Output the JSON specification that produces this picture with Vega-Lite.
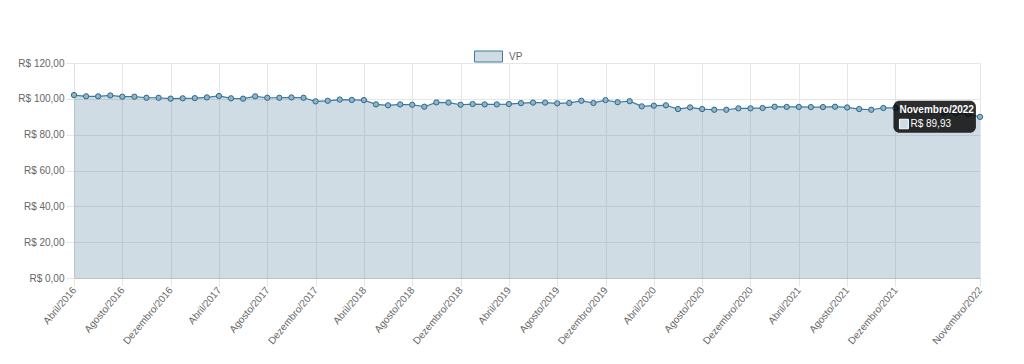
{
  "$schema": "https://vega.github.io/schema/vega-lite/v6.json",
  "width": 906,
  "height": 215,
  "autosize": "none",
  "padding": {"left": 74, "top": 63, "right": 44, "bottom": 86},
  "background": "white",
  "config": {
    "font": "Liberation Sans",
    "view": {"stroke": null},
    "axis": {
      "labelFont": "Liberation Sans",
      "labelFontSize": 10,
      "labelColor": "#666666",
      "gridColor": "#e6e6e6",
      "tickColor": "#e6e6e6",
      "title": null
    }
  },
  "data": {
    "values": [
      {"mes": "Abril/2016", "vp": 102.1},
      {"mes": "Maio/2016", "vp": 101.4},
      {"mes": "Junho/2016", "vp": 101.4},
      {"mes": "Julho/2016", "vp": 101.9},
      {"mes": "Agosto/2016", "vp": 101.2},
      {"mes": "Setembro/2016", "vp": 101.2},
      {"mes": "Outubro/2016", "vp": 100.6},
      {"mes": "Novembro/2016", "vp": 100.6},
      {"mes": "Dezembro/2016", "vp": 100.1},
      {"mes": "Janeiro/2017", "vp": 100.3},
      {"mes": "Fevereiro/2017", "vp": 100.4},
      {"mes": "Março/2017", "vp": 100.8},
      {"mes": "Abril/2017", "vp": 101.6},
      {"mes": "Maio/2017", "vp": 100.3},
      {"mes": "Junho/2017", "vp": 100.1},
      {"mes": "Julho/2017", "vp": 101.4},
      {"mes": "Agosto/2017", "vp": 100.6},
      {"mes": "Setembro/2017", "vp": 100.6},
      {"mes": "Outubro/2017", "vp": 100.8},
      {"mes": "Novembro/2017", "vp": 100.6},
      {"mes": "Dezembro/2017", "vp": 98.6},
      {"mes": "Janeiro/2018", "vp": 98.9},
      {"mes": "Fevereiro/2018", "vp": 99.6},
      {"mes": "Março/2018", "vp": 99.4},
      {"mes": "Abril/2018", "vp": 99.3},
      {"mes": "Maio/2018", "vp": 96.9},
      {"mes": "Junho/2018", "vp": 96.4},
      {"mes": "Julho/2018", "vp": 96.9},
      {"mes": "Agosto/2018", "vp": 96.7},
      {"mes": "Setembro/2018", "vp": 95.6},
      {"mes": "Outubro/2018", "vp": 98.0},
      {"mes": "Novembro/2018", "vp": 97.9},
      {"mes": "Dezembro/2018", "vp": 96.7},
      {"mes": "Janeiro/2019", "vp": 97.1},
      {"mes": "Fevereiro/2019", "vp": 96.9},
      {"mes": "Março/2019", "vp": 96.9},
      {"mes": "Abril/2019", "vp": 97.1},
      {"mes": "Maio/2019", "vp": 97.6},
      {"mes": "Junho/2019", "vp": 97.9},
      {"mes": "Julho/2019", "vp": 97.9},
      {"mes": "Agosto/2019", "vp": 97.5},
      {"mes": "Setembro/2019", "vp": 97.7},
      {"mes": "Outubro/2019", "vp": 98.9},
      {"mes": "Novembro/2019", "vp": 97.7},
      {"mes": "Dezembro/2019", "vp": 99.3},
      {"mes": "Janeiro/2020", "vp": 98.1},
      {"mes": "Fevereiro/2020", "vp": 98.7},
      {"mes": "Março/2020", "vp": 95.8},
      {"mes": "Abril/2020", "vp": 96.2},
      {"mes": "Maio/2020", "vp": 96.4},
      {"mes": "Junho/2020", "vp": 94.3},
      {"mes": "Julho/2020", "vp": 95.2},
      {"mes": "Agosto/2020", "vp": 94.3},
      {"mes": "Setembro/2020", "vp": 93.9},
      {"mes": "Outubro/2020", "vp": 93.9},
      {"mes": "Novembro/2020", "vp": 94.7},
      {"mes": "Dezembro/2020", "vp": 94.7},
      {"mes": "Janeiro/2021", "vp": 94.9},
      {"mes": "Fevereiro/2021", "vp": 95.6},
      {"mes": "Março/2021", "vp": 95.5},
      {"mes": "Abril/2021", "vp": 95.5},
      {"mes": "Maio/2021", "vp": 95.4},
      {"mes": "Junho/2021", "vp": 95.4},
      {"mes": "Julho/2021", "vp": 95.6},
      {"mes": "Agosto/2021", "vp": 95.2},
      {"mes": "Setembro/2021", "vp": 94.3},
      {"mes": "Outubro/2021", "vp": 93.9},
      {"mes": "Novembro/2021", "vp": 94.9},
      {"mes": "Dezembro/2021", "vp": 94.9},
      {"mes": "Janeiro/2022", "vp": 94.3},
      {"mes": "Fevereiro/2022", "vp": 93.8},
      {"mes": "Março/2022", "vp": 93.3},
      {"mes": "Abril/2022", "vp": 92.2},
      {"mes": "Maio/2022", "vp": 92.0},
      {"mes": "Junho/2022", "vp": 91.4},
      {"mes": "Novembro/2022", "vp": 89.93}
    ]
  },
  "encoding": {
    "x": {
      "field": "mes",
      "type": "ordinal",
      "sort": null,
      "scale": {"type": "point", "padding": 0},
      "axis": {
        "values": ["Abril/2016", "Agosto/2016", "Dezembro/2016", "Abril/2017", "Agosto/2017", "Dezembro/2017", "Abril/2018", "Agosto/2018", "Dezembro/2018", "Abril/2019", "Agosto/2019", "Dezembro/2019", "Abril/2020", "Agosto/2020", "Dezembro/2020", "Abril/2021", "Agosto/2021", "Dezembro/2021", "Novembro/2022"],
        "labelAngle": -50,
        "labelAlign": "right",
        "labelBaseline": "middle",
        "tickSize": 8,
        "labelPadding": 2,
        "grid": true,
        "domainColor": "#bfbfbf"
      }
    },
    "y": {
      "field": "vp",
      "type": "quantitative",
      "scale": {"domain": [0, 120], "nice": false},
      "axis": {
        "values": [0, 20, 40, 60, 80, 100, 120],
        "labelExpr": "'R$ ' + replace(format(datum.value, '.2f'), '.', ',')",
        "tickSize": 8,
        "labelPadding": 2,
        "grid": true,
        "domainColor": "#e0e0e0"
      }
    }
  },
  "layer": [
    {
      "mark": {"type": "area"},
      "encoding": {
        "color": {
          "datum": "VP",
          "scale": {"range": ["rgba(70,120,150,0.26)"]},
          "legend": {
            "title": null,
            "orient": "none",
            "legendX": 403,
            "legendY": -18,
            "symbolType": "M-1.27,-0.5H1.27V0.5H-1.27Z",
            "symbolSize": 484,
            "symbolStrokeColor": "#3d7b9c",
            "symbolStrokeWidth": 1,
            "labelOffset": 9,
            "labelFontSize": 10,
            "labelColor": "#666666",
            "labelFont": "Liberation Sans"
          }
        }
      }
    },
    {
      "mark": {"type": "line", "color": "#3d7b9c", "strokeWidth": 1.2}
    },
    {
      "mark": {"type": "point", "filled": true, "fill": "#8db5cc", "stroke": "#2f6889", "strokeWidth": 1, "size": 28, "opacity": 1}
    },
    {
      "transform": [{"filter": "datum.mes === 'Novembro/2022'"}],
      "mark": {"type": "rect", "color": "black", "opacity": 0.82, "cornerRadius": 6, "xOffset": -2, "x2Offset": 8},
      "encoding": {
        "x": {"datum": "Dezembro/2021"},
        "x2": {"datum": "Junho/2022"},
        "y": {"datum": 99},
        "y2": {"datum": 81.1}
      }
    },
    {
      "transform": [{"filter": "datum.mes === 'Novembro/2022'"}],
      "mark": {"type": "text", "color": "white", "fontWeight": "bold", "fontSize": 10, "align": "left", "baseline": "alphabetic", "dx": 4, "font": "Liberation Sans"},
      "encoding": {
        "x": {"datum": "Dezembro/2021"},
        "y": {"datum": 91.9},
        "text": {"field": "mes"}
      }
    },
    {
      "transform": [{"filter": "datum.mes === 'Novembro/2022'"}],
      "mark": {"type": "rect", "fill": "#cfdce4", "stroke": "white", "strokeWidth": 1, "xOffset": 4, "x2Offset": 13},
      "encoding": {
        "x": {"datum": "Dezembro/2021"},
        "x2": {"datum": "Dezembro/2021"},
        "y": {"datum": 88.6},
        "y2": {"datum": 83.3}
      }
    },
    {
      "transform": [{"filter": "datum.mes === 'Novembro/2022'"}],
      "mark": {"type": "text", "color": "white", "fontSize": 10, "align": "left", "baseline": "alphabetic", "dx": 15, "font": "Liberation Sans"},
      "encoding": {
        "x": {"datum": "Dezembro/2021"},
        "y": {"datum": 84.4},
        "text": {"value": "R$ 89,93"}
      }
    }
  ]
}
